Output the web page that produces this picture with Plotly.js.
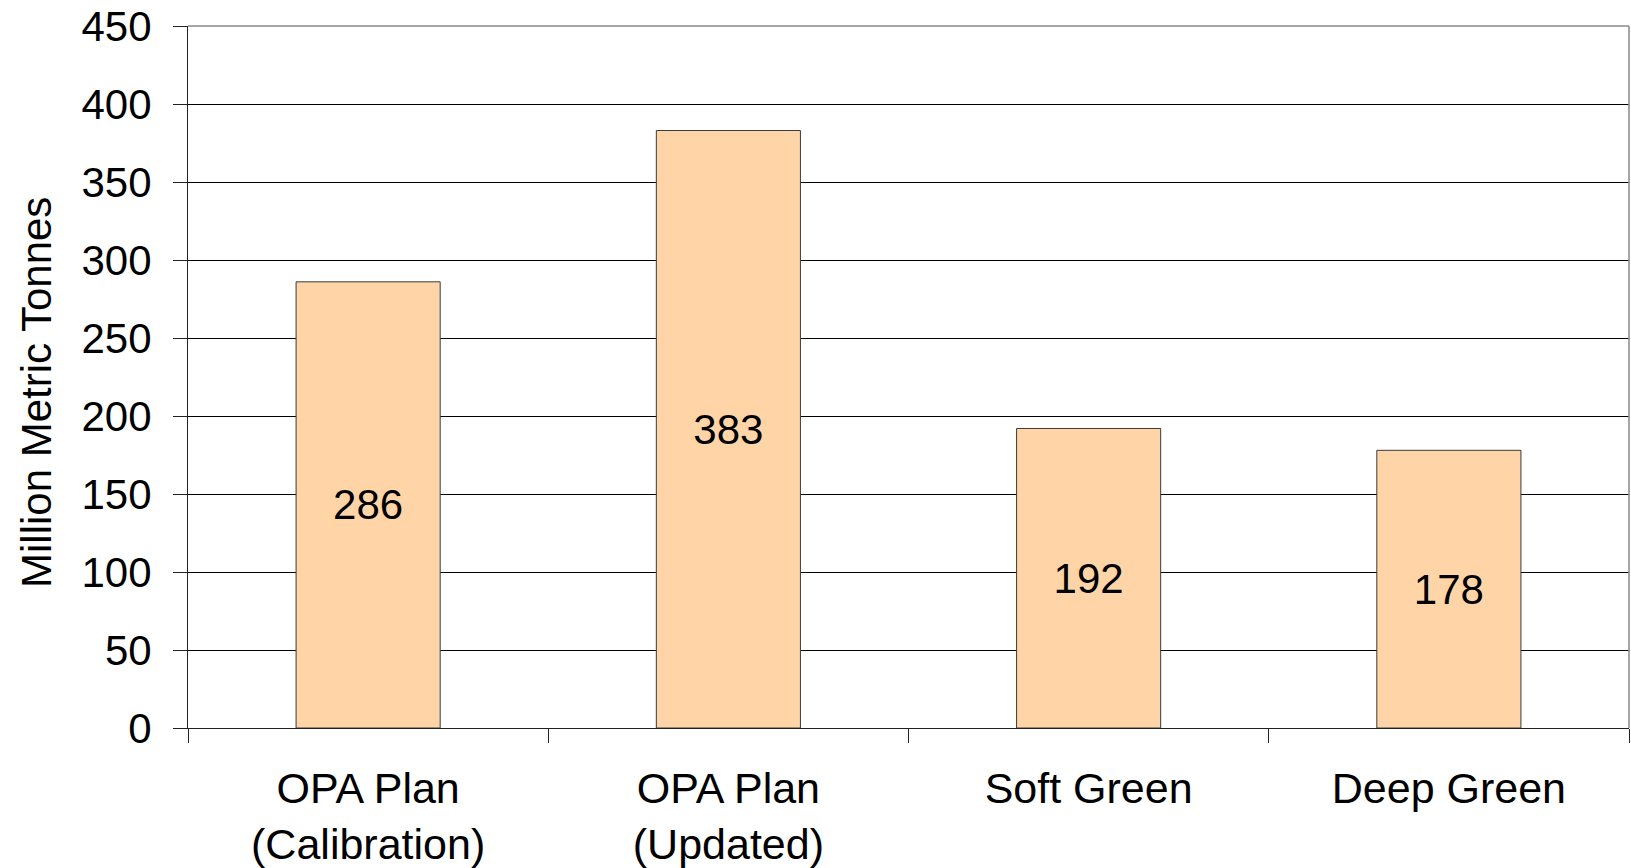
<!DOCTYPE html>
<html>
<head>
<meta charset="utf-8">
<script src="https://cdn.plot.ly/plotly-3.0.1.min.js"></script>
<style>
  html, body { margin: 0; padding: 0; background: #ffffff; }
  #chart { width: 1631px; height: 868px; }
</style>
</head>
<body>
<div id="chart"></div>
<script>
const categories = ["OPA Plan<br>(Calibration)", "OPA Plan<br>(Updated)", "Soft Green", "Deep Green"];
const values = [286, 383, 192, 178];
const valueLabels = ["286", "383", "192", "178"];
const yTickValues = [0, 50, 100, 150, 200, 250, 300, 350, 400, 450];
const yTitle = "Million Metric Tonnes";

const FONT = "Liberation Sans, Arial, sans-serif";

const trace = {
  type: "bar",
  x: categories,
  y: values,
  text: valueLabels,
  textposition: "inside",
  insidetextanchor: "middle",
  textangle: 0,
  constraintext: "none",
  textfont: { family: FONT, size: 42, color: "#000000" },
  marker: { color: "#FFD5A8", line: { color: "#3a3a3a", width: 1 } },
  hoverinfo: "none"
};

const layout = {
  width: 1631,
  height: 868,
  margin: { l: 188, r: 2, t: 26, b: 140 },
  paper_bgcolor: "#ffffff",
  plot_bgcolor: "#ffffff",
  bargap: 0.6,
  showlegend: false,
  font: { family: FONT, color: "#000000" },
  xaxis: {
    type: "category",
    range: [-0.5, 3.5],
    showgrid: false,
    zeroline: false,
    showline: true,
    linecolor: "#222222",
    linewidth: 1,
    mirror: false,
    ticks: "outside",
    tickson: "boundaries",
    ticklen: 14,
    tickcolor: "#222222",
    tickwidth: 1,
    tickfont: { family: FONT, size: 43, color: "#000000" },
    ticklabelstandoff: 22,
    fixedrange: true
  },
  yaxis: {
    range: [0, 450],
    tickvals: yTickValues,
    ticktext: yTickValues.map(String),
    showgrid: true,
    gridcolor: "#000000",
    gridwidth: 1,
    zeroline: false,
    showline: true,
    linecolor: "#222222",
    linewidth: 1,
    ticks: "outside",
    ticklen: 14,
    tickcolor: "#222222",
    tickwidth: 1,
    tickfont: { family: FONT, size: 42, color: "#000000" },
    ticklabelstandoff: 13,
    automargin: false,
    fixedrange: true
  },
  annotations: [
    {
      text: yTitle,
      xref: "paper", yref: "paper",
      x: 0, y: 0.5,
      xanchor: "center", yanchor: "middle",
      xshift: -152, yshift: -16,
      textangle: -90,
      showarrow: false,
      font: { family: FONT, size: 42, color: "#000000" }
    }
  ],
  shapes: [
    { type: "line", xref: "paper", yref: "paper", x0: 0, x1: 1, y0: 1, y1: 1, line: { color: "#888888", width: 1.5 } },
    { type: "line", xref: "paper", yref: "paper", x0: 1, x1: 1, y0: 0, y1: 1, line: { color: "#888888", width: 1.5 } }
  ]
};

Plotly.newPlot("chart", [trace], layout, { displayModeBar: false, staticPlot: true });
</script>
</body>
</html>
